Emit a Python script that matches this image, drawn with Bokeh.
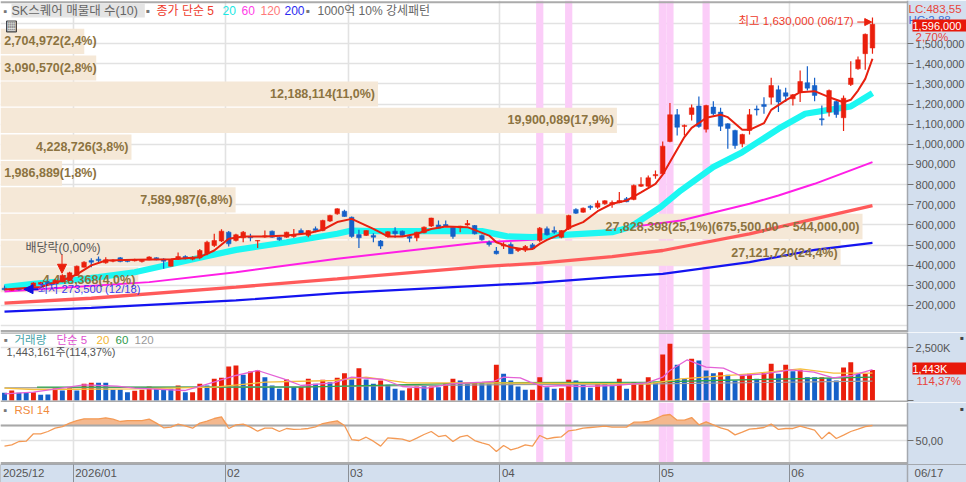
from bokeh.plotting import figure
from bokeh.layouts import column
from bokeh.models import Range1d, FixedTicker, Label, Arrow, NormalHead, NumeralTickFormatter, LinearAxis
from bokeh.core.properties import value
from bokeh.embed import file_html
from bokeh.resources import INLINE
import numpy as np

# ---- data (prices in thousand won) ----
opens = [286,276,283,278,296,305,316,308,318,324,349,390,423,430,412,420,437,423,422,418,427,437,430,395,430,443,430,437,457,498,
         520,564,523,536,543,520,541,569,538,539,543,572,548,581,572,619,655,668,638,552,548,548,520,543,569,569,543,536,561,594,
         600,602,589,586,600,597,548,513,470,495,503,473,476,501,523,581,572,539,581,677,663,693,688,705,701,711,730,726,792,792,
         844,854,1014,1147,1089,1148,1190,1075,1185,1160,1102,1069,1003,1069,1176,1198,1234,1271,1256,1226,1259,1306,1292,1127,1160,1213,1132,1297,1375,1450,1478]
highs = [299,283,286,291,316,318,322,330,355,368,398,420,435,443,440,430,441,427,432,428,445,440,434,430,463,450,445,481,522,556,
         578,570,556,570,556,524,572,572,541,566,580,582,574,592,626,650,683,675,642,576,574,559,525,568,589,572,546,566,592,636,
         622,622,592,596,625,600,552,523,490,514,514,485,500,510,590,592,592,574,650,683,686,697,721,722,721,763,738,800,837,845,
         870,1014,1205,1176,1098,1198,1238,1196,1214,1181,1105,1072,1052,1176,1193,1234,1330,1292,1281,1250,1367,1387,1330,1193,1272,1217,1243,1413,1436,1550,1630]
lows = [275,274,275,275,292,300,303,305,315,322,347,388,390,412,407,415,415,415,418,414,424,424,382,393,426,428,425,430,450,490,
        515,493,518,514,519,486,536,536,522,536,536,553,539,564,568,615,651,640,536,486,545,514,481,538,536,545,514,519,558,590,
        582,590,531,564,596,552,522,493,453,481,456,465,465,478,514,548,556,534,575,654,660,675,680,700,685,708,712,722,788,788,
        829,848,1010,1044,1044,1118,1082,1059,1143,1066,978,978,986,1049,1143,1152,1198,1160,1210,1193,1210,1267,1214,1094,1138,1132,1066,1289,1370,1370,1450]
closes = [278,281,278,288,312,314,308,325,349,362,395,415,415,423,427,425,418,418,427,425,441,427,420,427,443,432,437,473,514,523,
          569,506,551,564,536,523,546,539,526,564,551,556,572,572,622,647,680,642,543,536,572,539,495,566,556,548,534,564,589,634,
          584,592,543,594,607,556,526,503,457,501,457,481,493,481,584,551,564,572,647,658,683,686,708,720,711,721,715,796,801,834,
          850,991,1147,1085,1094,1181,1089,1193,1152,1090,1079,994,1049,1147,1171,1188,1292,1210,1239,1246,1312,1279,1243,1122,1267,1148,1229,1329,1420,1546,1596]

ma5_i = [0,5,8,10,12,14,18,23,27,29,31,33,36,39,42,44,46,48,51,53,55,57,59,61,64,67,68,70,72,73,74,75,77,78,80,82,84,86,88,90,91,92,94,95,96,97,99,100,102,103,105,106,108,110,112,114,116,117,118,119,120]
ma5_v = [280,292,324,354,399,423,427,430,440,473,531,542,542,547,559,576,614,630,580,543,543,556,580,592,589,547,514,489,478,481,506,526,556,586,614,668,705,721,762,804,850,912,1036,1082,1105,1132,1147,1135,1072,1072,1105,1171,1218,1259,1264,1234,1209,1221,1267,1325,1425]
ma20_i = [0,4,9,13,18,27,32,39,46,48,51,66,69.5,73,77.3,84,86.5,90.7,93.5,98,102,107,110.7,114,117,120]
ma20_v = [291,307,324,341,365,437,476,514,556,572,569,569,543,539,551,564,589,688,771,887,961,1077,1152,1171,1188,1254]
ma60_i = [0,20,32,46,66,73,77,86.5,93.5,103,107,112,120]
ma60_v = [269,316,365,432,514,526,543,589,622,705,746,804,912]
ma120_i = [0,12,32,46,66,74,84,91,103,112,120]
ma120_v = [212,236,291,332,393,410,443,473,556,630,696]
ma200_i = [0,12,32,46,66,73,84,91,103,112,120]
ma200_v = [170,188,225,261,299,311,341,357,415,476,511]

profile_vol = [2704972,3090570,12188114,19900089,4228726,1986889,7589987,27828398,27121720,4448368]
profile_lab = ["2,704,972(2,4%)","3,090,570(2,8%)","12,188,114(11,0%)","19,900,089(17,9%)","4,228,726(3,8%)",
               "1,986,889(1,8%)","7,589,987(6,8%)","27,828,398(25,1%)(675,500,00 ~ 544,000,00)","27,121,720(24,4%)","4,448,368(4,0%)"]
profile_top = [1574,1441,1312,1181,1049,917,787,655,523,390]
profile_bot = [1449,1317,1188,1056,923,794,662,529,397,266]

volume = [363,474,363,363,395,269,284,585,474,585,474,790,837,837,837,506,506,395,458,506,664,585,506,553,711,395,395,790,711,1027,
          1074,1612,1659,1217,1375,1422,1106,711,553,995,632,632,1027,790,980,869,1074,1296,995,1533,995,790,948,743,553,474,585,664,679,664,
          632,822,1027,948,790,837,837,790,1691,1264,948,664,506,506,1106,632,553,585,980,948,743,600,790,790,743,1027,553,869,837,1106,
          869,2180,2686,1691,1027,1975,1896,1422,1296,1343,1217,948,1185,1264,1027,1311,1738,1264,1691,1390,1454,1106,1106,1106,1059,948,1564,1817,1264,1264,1443]
vol_red = [1,4,7,9,11,12,18,19,20,24,26,27,29,30,31,32,34,35,39,41,42,44,46,47,49,52,56,57,59,61,62,65,68,73,74,77,78,82,85,87,88,89,
           91,92,95,99,102,103,105,106,108,110,113,116,117,119,120]
vma5_i = [0,4,11,15.6,18,25,27,32,35,38.6,41,45.5,48,52.4,55,58.4,61.7,66,67.6,69,71.3,72.7,74.5,77.3,79.6,84.2,88.8,91,92,94.4,97,99.4,101.7,105,108.7,111.9,114.6,117.2,120]
vma5_v = [316,395,743,679,585,474,664,1185,1422,1027,711,837,1106,995,664,585,790,869,900,1106,1074,869,664,711,664,711,837,1106,1422,1928,1580,1533,1185,1264,1454,1343,1074,1185,1469]
vma20_i = [0,4,18,29,36,45.5,50,55.7,66,89,93.5,103,110,114.6,120]
vma20_v = [585,521,553,632,869,948,1106,837,837,790,1027,1264,1501,1296,1296]
vma60_i = [4.5,41,66,89,98,120]
vma60_v = [632,632,837,869,948,1106]
vma120_i = [0,45.5,66,89.8,120]
vma120_v = [600,664,743,790,916]

rsi = [42.5,44.2,48.7,49.1,58.9,58.9,62,66.4,68.6,73.1,76.6,78.9,78.9,78.9,80.2,78.4,75.3,76.6,76.6,76.6,78.4,73.1,66.9,67.8,71.8,69.5,66.4,73.1,75.8,79.3,
       81.5,66,70.9,71.8,67.8,62.4,66.4,66.4,62,66,64.7,65.1,66,68.2,72.6,74.4,76.2,70,51.3,50,54.4,49.1,42.5,53.6,52.7,51.8,48.7,53.1,58,62,
       55.3,56.7,48.7,54.9,56.7,50,46.9,44.2,35.3,43.3,37.6,40.2,44.2,42.5,56.7,52.2,54,54.9,62.9,64.2,66.4,67.3,68.2,69.1,67.8,67.8,67.8,74.4,74.4,75.3,
       78.9,83.3,84.6,77.1,77.1,80.6,70.9,74.9,70.9,66.9,64.2,57.5,61.1,65.1,66,67.3,71.8,64.7,66,66,69.1,66.4,63.8,52.2,61.1,52.7,57.1,62,65.1,68.6,70]

pink_bars = [74,78,91,92,97]
month_pos = [-0.5,9.5,30.5,47.5,68.5,90.5,108.5]
month_lab = ["2025/12","2026/01","02","03","04","05","06"]
price_ticks = [200,300,400,500,600,700,800,900,1000,1100,1200,1300,1400,1500]

# ---- styling ----
RED, BLUE = "#ea1f0c", "#1560c8"
STRIP = "#d3dfee"
GRID = "#e2e2e2"
SEP = "#ababab"
FONT = "Liberation Sans, Noto Sans CJK KR"
W = 966
XL, XAX, XR = -0.553, 124.85, 133.0   # data x at the left edge, the price axis and the right edge
x_range = Range1d(XL, XR)
xs = np.arange(len(closes))
o, h, l, c = [np.array(a) * 1000.0 for a in (opens, highs, lows, closes)]


def base(height, yr):
    f = figure(width=W, height=height, x_range=x_range, y_range=yr, toolbar_location=None,
               output_backend="svg", y_axis_location="right", x_axis_location=None,
               min_border_left=0, min_border_right=0, min_border_top=0, min_border_bottom=0,
               border_fill_color="white", background_fill_color="white", outline_line_color=None)
    f.xgrid.ticker = FixedTicker(ticks=month_pos[1:])
    f.xgrid.grid_line_color = GRID
    f.xgrid.grid_line_width = 1.6
    f.ygrid.grid_line_color = GRID
    f.ygrid.grid_line_width = 1.4
    ax = f.yaxis[0]
    ax.fixed_location = XAX
    ax.axis_line_color = "#a4a8ae"
    ax.axis_line_width = 1.5
    ax.major_tick_line_color = "#707070"
    ax.major_tick_out = 6
    ax.major_tick_in = 0
    ax.minor_tick_line_color = None
    ax.major_label_standoff = 2
    ax.major_label_text_color = "#555555"
    ax.major_label_text_font = FONT
    ax.major_label_text_font_size = "11px"
    return f


def pink(f, top, bot):
    f.vbar(x=pink_bars, width=1.0, bottom=bot, top=top, fill_color="#fbcdf8", line_color=None)


def strip(f, top, bot):
    f.quad(left=XAX, right=XR, top=top, bottom=bot, fill_color=STRIP, line_color=None)


def sep(f, y):
    f.segment(XL, y, XAX, y, line_color=SEP, line_width=2)


def txt(f, rx, ry, text, color, size, panel_bottom, **kw):
    f.add_layout(Label(x=rx, y=panel_bottom - ry, x_units="screen", y_units="screen", text=text,
                       text_color=color, text_font_size=size, text_font=FONT, text_baseline="middle", **kw))


# ---- price panel (window rows 0-332) ----
p1 = base(332, Range1d(65938, 1714000))
p1.ygrid.ticker = FixedTicker(ticks=[t * 1000 for t in range(100, 1700, 100)])
p1.yaxis[0].ticker = FixedTicker(ticks=[t * 1000 for t in price_ticks])
p1.yaxis[0].formatter = NumeralTickFormatter(format="0,0")
pink(p1, 1714000, 65938)
p1.extra_x_ranges["vol"] = Range1d(0, 27828398 * 966 / 862)
pt, pb = np.array(profile_top) * 1000.0, np.array(profile_bot) * 1000.0
p1.hbar(y=(pt + pb) / 2, height=pt - pb, left=0, right=profile_vol, x_range_name="vol",
        fill_color="#f5e8d7", line_color=None)
for ix, vals, col, wd in ((ma200_i, ma200_v, "#1414f0", 2.2), (ma120_i, ma120_v, "#ff5a5a", 3.3),
                          (ma60_i, ma60_v, "#ff1ee6", 2.0), (ma20_i, ma20_v, "#1cf7f2", 6.2)):
    p1.line(ix, np.array(vals) * 1000.0, line_color=col, line_width=wd)
p1.text(x=np.maximum(profile_vol, 3200000), y=(pt + pb) / 2, text=profile_lab, x_range_name="vol", x_offset=-3,
        text_align="right", text_baseline="middle", text_color="#8c7340", text_font_size="12.5px",
        text_font=value(FONT), text_font_style="bold")
cols = [RED if cc >= oo else BLUE for oo, cc in zip(opens, closes)]
p1.segment(xs, l, xs, h, line_color=cols, line_width=1.2)
p1.vbar(xs, 0.64, np.minimum(o, c), np.maximum(o, c), fill_color=cols, line_color=cols, line_width=0.5)
p1.line(ma5_i, np.array(ma5_v) * 1000.0, line_color="#e8200f", line_width=2)
sep(p1, 1705000)
sep(p1, 73400)
strip(p1, 1714000, 65938)

p1.add_layout(Arrow(end=NormalHead(size=7, fill_color=RED, line_color=RED), line_color=RED, line_width=1,
                    x_start=117.9, y_start=1607000, x_end=119.9, y_end=1607000))
p1.add_layout(Label(x=117.4, y=1612000, text="최고 1,630,000 (06/17)", text_color="#ee3a2a", text_align="right",
                    text_baseline="middle", text_font=FONT, text_font_size="11.5px"))
p1.add_layout(Arrow(end=NormalHead(size=9, fill_color="#1010e0", line_color="#1010e0"), line_color="#1010e0",
                    line_width=2, x_start=4.7, y_start=281000, x_end=2.7, y_end=281000))
p1.add_layout(Label(x=4.6, y=283000, text="최저 273,500 (12/18)", text_color="#3a3af0", text_baseline="middle",
                    text_font=FONT, text_font_size="11.2px"))
p1.add_layout(Arrow(end=NormalHead(size=9, fill_color=RED, line_color=RED), line_color=RED, line_width=1,
                    x_start=7.95, y_start=455000, x_end=7.95, y_end=360000))
p1.add_layout(Label(x=2.9, y=486000, text="배당락(0,00%)", text_color="#555555", text_baseline="middle",
                    text_font=FONT, text_font_size="12px"))
# header row
txt(p1, 3, 10, "▪", "#777777", "11px", 332)
txt(p1, 11, 10, " SK스퀘어 매물대 수(10) ", "#666666", "12.5px", 332, background_fill_color="#e4e4e4")
for rx, t, col in ((145, "▪", "#777777"), (156, "종가 단순 5", "#ee3a2a"), (222, "20", "#19e8e4"), (241, "60", "#ff40e8"),
                   (260, "120", "#ff7a7a"), (284, "200", "#2a2af0"), (305, "▪", "#777777"), (317, "1000억 10% 강세패턴", "#666666")):
    txt(p1, rx, 10, t, col, "12px", 332)
txt(p1, 6, 26, "▦", "#ffffff", "10px", 332, background_fill_color="#8a8a8a", border_line_color="#444444")
# right strip readouts
txt(p1, 908, 8, "LC:483,55", "#e8443a", "11.5px", 332)
txt(p1, 908, 19, "HC:2,88", "#3a6fd8", "11.5px", 332)
txt(p1, 912, 25, " 1,596,000      ", "white", "11px", 332, background_fill_color="#e8180a")
txt(p1, 915, 36, "2,70%", "#e8443a", "11.5px", 332)

# ---- volume panel (window rows 332-402) ----
p2 = base(70, Range1d(-95, 3223))
p2.ygrid.ticker = FixedTicker(ticks=[2500])
p2.yaxis[0].ticker = FixedTicker(ticks=[0, 2500])
p2.yaxis[0].major_label_overrides = {0: "", 2500: "2,500K"}
pink(p2, 3223, -95)
vcols = [RED if i in vol_red else BLUE for i in range(len(volume))]
p2.vbar(xs, 0.68, 0, volume, fill_color=vcols, line_color=None)
for ix, vals, col, wd in ((vma120_i, vma120_v, "#9c9c9c", 1.2), (vma60_i, vma60_v, "#2fa64f", 1.3),
                          (vma20_i, vma20_v, "#f6bf3c", 1.3), (vma5_i, vma5_v, "#e462d6", 1.3)):
    p2.line(ix, vals, line_color=col, line_width=wd)
sep(p2, 3215)
sep(p2, -50)
strip(p2, 3223, -95)
for rx, t, col in ((3, "▪", "#777777"), (14, "거래량", "#45a3a8"), (56, "단순 5", "#e050d0"), (96, "20", "#f2b632"),
                   (115, "60", "#2f9a4c"), (134, "120", "#9a9a9a")):
    txt(p2, rx, 339, t, col, "11.5px", 402)
txt(p2, 6, 351, "1,443,161주(114,37%)", "#555555", "11px", 402)
txt(p2, 912, 368, " 1,443K            ", "white", "11px", 402, background_fill_color="#e8180a")
txt(p2, 916, 380, "114,37%", "#e8443a", "11.5px", 402)
txt(p2, 959, 337, "▪", "#444444", "12px", 402)

# ---- RSI panel with the time strip (window rows 402-482) ----
RB, RT, RX = -5.9, 100.6, 19.4
p3 = base(80, Range1d(RB, RT))
p3.ygrid.ticker = FixedTicker(ticks=[50, 70])
p3.yaxis[0].ticker = FixedTicker(ticks=[50])
p3.yaxis[0].major_label_overrides = {50: "50,00"}
pink(p3, RT, RB)
rsi_a = np.array(rsi)
p3.varea(xs, np.full(len(xs), 70.0), np.maximum(rsi_a, 70.0), fill_color="#f4b88e")
p3.segment(XL, 70, XAX, 70, line_color="#a8a8a8", line_width=2)
p3.line(xs, rsi_a, line_color="#f49a55", line_width=1.3)
sep(p3, 20.0)
strip(p3, RT, RB)
p3.quad(left=XL, right=XR, top=RX - 1.4, bottom=RB, fill_color=STRIP, line_color=None)
p3.text(x=month_pos, y=[RX - 12.5] * len(month_pos), text=month_lab, x_offset=2, text_align="left",
        text_baseline="middle", text_color="#555555", text_font_size="11.5px", text_font=value(FONT))
xa = LinearAxis(ticker=FixedTicker(ticks=month_pos + [XAX]), fixed_location=RX - 1.4)
xa.axis_line_color = "#a4a8ae"
xa.major_tick_line_color = "#8a8f96"
xa.major_tick_in = 0
xa.major_tick_out = 18
xa.minor_tick_line_color = None
xa.major_label_text_color = None
p3.add_layout(xa, "below")
txt(p3, 3, 409, "▪", "#777777", "11px", 482)
txt(p3, 14, 409, "RSI 14", "#f08a3c", "11.5px", 482)
txt(p3, 959, 408, "▪", "#444444", "12px", 482)
txt(p3, 914, 472, "06/17", "#555555", "11.5px", 482)

layout = column(p1, p2, p3, spacing=0)
open("out.html", "w").write(file_html(layout, INLINE))
